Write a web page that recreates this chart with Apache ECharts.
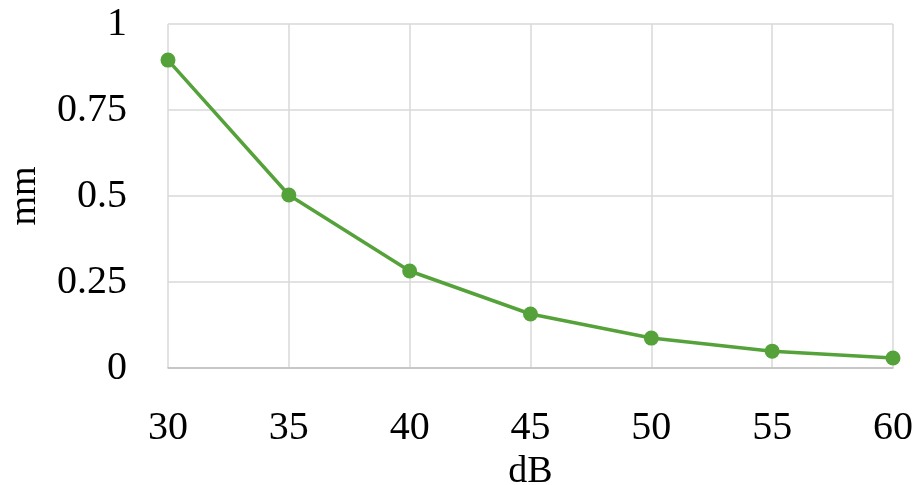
<!DOCTYPE html>
<html><head><meta charset="utf-8">
<script src="https://cdn.jsdelivr.net/npm/echarts@6/dist/echarts.min.js"></script>
<style>html,body{margin:0;padding:0;background:#fff}#c{width:917px;height:485px}</style>
</head><body><div id="c"></div>
<script>
const xValues = [30, 35, 40, 45, 50, 55, 60];
const yValues = [0.895, 0.503, 0.282, 0.157, 0.087, 0.049, 0.029];
const xName = 'dB';
const yName = 'mm';
const font = '"Liberation Serif", serif';
const chart = echarts.init(document.getElementById('c'));
chart.setOption({
  animation: false,
  grid: {left: 168, right: 24, top: 24, bottom: 117, outerBoundsMode: 'none', containLabel: false},
  xAxis: {
    type: 'value', min: 30, max: 60, interval: 5,
    name: xName, nameLocation: 'middle', nameGap: 79,
    nameTextStyle: {fontFamily: font, fontSize: 38, color: '#000'},
    axisLine: {show: true, lineStyle: {color: '#bfbfbf', width: 1.5}},
    axisTick: {show: false},
    splitLine: {show: true, lineStyle: {color: '#d9d9d9', width: 1.5}},
    axisLabel: {fontFamily: font, fontSize: 40, color: '#000', margin: 40}
  },
  yAxis: {
    type: 'value', min: 0, max: 1, interval: 0.25,
    name: yName, nameLocation: 'middle', nameGap: 124,
    nameTextStyle: {fontFamily: font, fontSize: 38, color: '#000'},
    axisLine: {show: false},
    axisTick: {show: false},
    splitLine: {show: true, lineStyle: {color: '#d9d9d9', width: 1.5}},
    axisLabel: {fontFamily: font, fontSize: 40, color: '#000', margin: 41,
      formatter: v => String(v)}
  },
  series: [{
    type: 'line',
    data: xValues.map((x, i) => [x, yValues[i]]),
    symbol: 'circle', symbolSize: 15,
    lineStyle: {color: '#55a23a', width: 3.5},
    itemStyle: {color: '#55a23a'}
  }]
});
</script></body></html>
